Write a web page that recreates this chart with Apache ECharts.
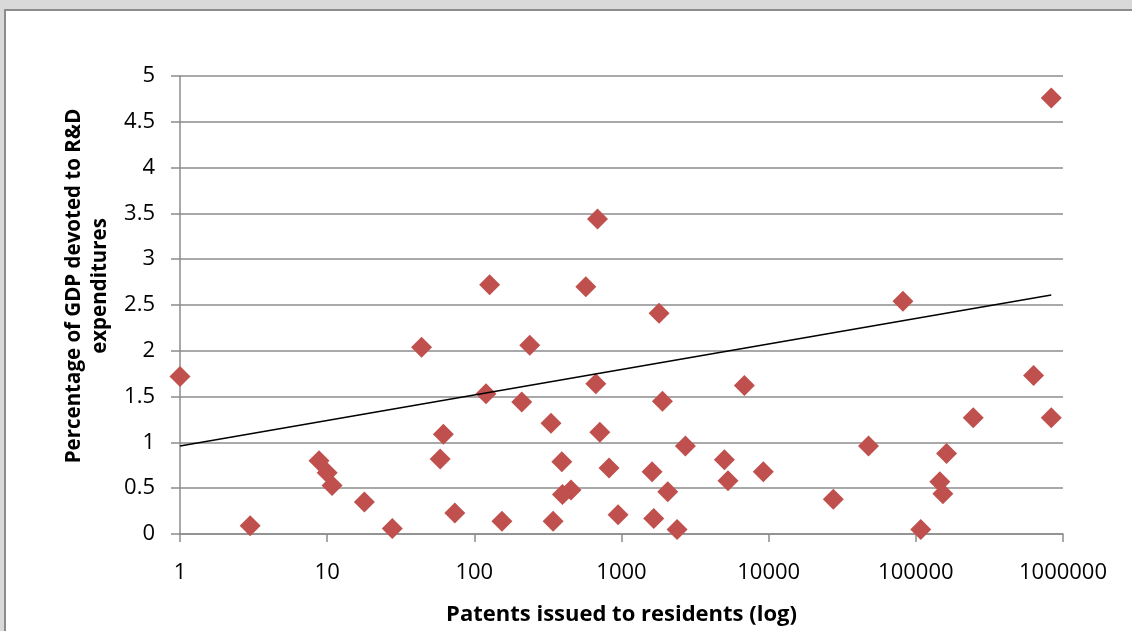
<!DOCTYPE html>
<html>
<head>
<meta charset="utf-8">
<script src="https://cdn.jsdelivr.net/npm/echarts@6/dist/echarts.min.js"></script>
<style>
  html, body { margin: 0; padding: 0; background: #d9d9d9; }
  .frame { position: absolute; left: 4px; top: 9px; width: 1200px; height: 700px;
           background: #fff; border: 2px solid #8c8c8c; }
  #chart { position: absolute; left: 0; top: 0; width: 1132px; height: 631px; }
</style>
</head>
<body>
<div class="frame"></div>
<div id="chart"></div>
<script>
// patents issued to residents (x) and R&D share of GDP (y)
var patents = [1, 3, 8.8, 10, 10.8, 17.9, 27.7, 43.8, 61.6, 58.6, 73.7,
  127, 120, 154, 210, 238, 332, 343, 393, 397, 454, 572, 687, 669, 712, 823, 948,
  1614, 1657, 1800, 1897, 2062, 2385, 2718, 5000, 5295, 6840, 9200,
  27500, 47700, 81700, 108000, 145500, 152700, 161800, 245500, 631000, 832000, 832000];
var rdShare = [1.72, 0.09, 0.80, 0.67, 0.53, 0.35, 0.06, 2.04, 1.09, 0.82, 0.23,
  2.72, 1.53, 0.14, 1.44, 2.06, 1.21, 0.14, 0.79, 0.43, 0.48, 2.70, 3.44, 1.64, 1.11, 0.72, 0.21,
  0.68, 0.17, 2.41, 1.45, 0.46, 0.05, 0.96, 0.81, 0.58, 1.62, 0.68,
  0.38, 0.96, 2.54, 0.05, 0.57, 0.44, 0.88, 1.27, 1.73, 4.76, 1.27];
// trendline end points
var trendX = [1, 832000];
var trendY = [0.96, 2.61];

var myChart = echarts.init(document.getElementById('chart'));

var points = patents.map(function(p, i) { return [p, rdShare[i]]; });
var trend = trendX.map(function(p, i) { return [p, trendY[i]]; });

var fontName = 'Open Sans';
var gridColor = '#8c8c8c';

var option = {
  animation: false,
  grid: { left: 180, right: 69, top: 76, bottom: 97, containLabel: false },
  xAxis: {
    type: 'log',
    logBase: 10,
    min: 1,
    max: 1000000,
    name: 'Patents issued to residents (log)',
    nameLocation: 'middle',
    nameGap: 70,
    nameTextStyle: { color: '#000', fontFamily: fontName, fontWeight: 'bold', fontSize: 22 },
    axisLine: { lineStyle: { color: gridColor, width: 1.5 } },
    axisTick: { show: true, length: 8, lineStyle: { color: gridColor, width: 1.5 } },
    minorTick: { show: false },
    splitLine: { show: false },
    axisLabel: {
      color: '#000', fontFamily: fontName, fontSize: 22, margin: 28,
      formatter: function(v) { return String(Math.round(v)); }
    }
  },
  yAxis: {
    type: 'value',
    min: 0,
    max: 5,
    interval: 0.5,
    name: 'Percentage of GDP devoted to R&D\nexpenditures',
    nameLocation: 'middle',
    nameGap: 64,
    nameTextStyle: {
      color: '#000', fontFamily: fontName, fontWeight: 'bold', fontSize: 20.5, lineHeight: 26,
      padding: [0, 0, 0, 38]   // nudge the title up a little, like the original
    },
    axisLine: { show: true, lineStyle: { color: gridColor, width: 1.5 } },
    axisTick: { show: true, length: 9, lineStyle: { color: gridColor, width: 1.5 } },
    splitLine: { lineStyle: { color: gridColor, width: 1.5 } },
    axisLabel: { color: '#000', fontFamily: fontName, fontSize: 22, margin: 25 }
  },
  series: [
    {
      name: 'R&D',
      type: 'scatter',
      symbol: 'diamond',
      symbolSize: 21,
      itemStyle: { color: '#c0504d', opacity: 1 },
      data: points,
      z: 2
    },
    {
      name: 'Trend',
      type: 'line',
      showSymbol: false,
      symbol: 'none',
      lineStyle: { color: '#000', width: 1.5 },
      data: trend,
      z: 3
    }
  ]
};

myChart.setOption(option);
window.addEventListener('resize', function() { myChart.resize(); });
</script>
</body>
</html>
